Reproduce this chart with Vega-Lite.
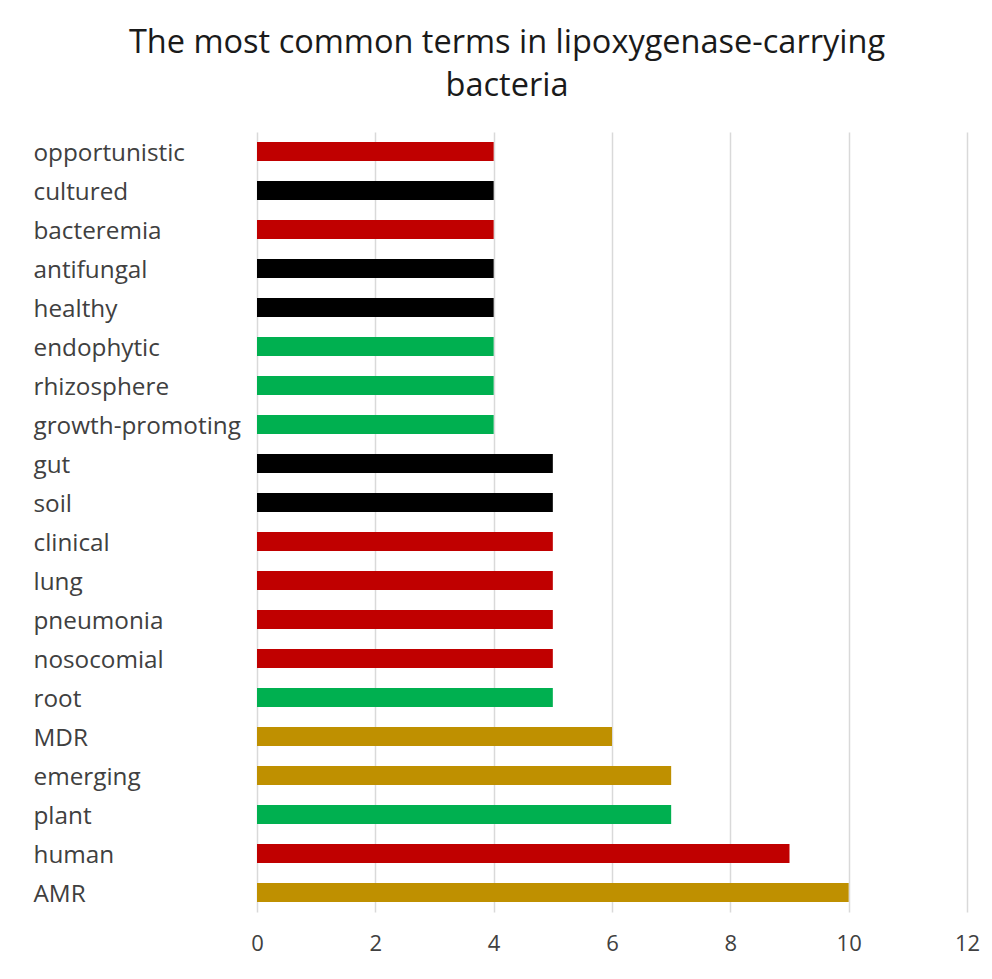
{
  "$schema": "https://vega.github.io/schema/vega-lite/v6.json",
  "width": 710,
  "height": 780,
  "autosize": {"type": "none"},
  "padding": {"left": 257, "top": 132, "right": 25, "bottom": 67},
  "background": "white",
  "title": {
    "text": ["The most common terms in lipoxygenase-carrying", "bacteria"],
    "anchor": "middle",
    "frame": "group",
    "dx": -105,
    "offset": 30,
    "font": "Open Sans",
    "fontSize": 32.5,
    "fontWeight": "normal",
    "color": "#1a1a1a",
    "lineHeight": 43
  },
  "data": {
    "values": [
      {"term": "opportunistic", "count": 4, "group": "clinical"},
      {"term": "cultured", "count": 4, "group": "other"},
      {"term": "bacteremia", "count": 4, "group": "clinical"},
      {"term": "antifungal", "count": 4, "group": "other"},
      {"term": "healthy", "count": 4, "group": "other"},
      {"term": "endophytic", "count": 4, "group": "plant"},
      {"term": "rhizosphere", "count": 4, "group": "plant"},
      {"term": "growth-promoting", "count": 4, "group": "plant"},
      {"term": "gut", "count": 5, "group": "other"},
      {"term": "soil", "count": 5, "group": "other"},
      {"term": "clinical", "count": 5, "group": "clinical"},
      {"term": "lung", "count": 5, "group": "clinical"},
      {"term": "pneumonia", "count": 5, "group": "clinical"},
      {"term": "nosocomial", "count": 5, "group": "clinical"},
      {"term": "root", "count": 5, "group": "plant"},
      {"term": "MDR", "count": 6, "group": "resistance"},
      {"term": "emerging", "count": 7, "group": "resistance"},
      {"term": "plant", "count": 7, "group": "plant"},
      {"term": "human", "count": 9, "group": "clinical"},
      {"term": "AMR", "count": 10, "group": "resistance"}
    ]
  },
  "mark": {"type": "bar"},
  "encoding": {
    "y": {
      "field": "term",
      "type": "nominal",
      "sort": null,
      "scale": {"paddingInner": 0.51, "paddingOuter": 0.255},
      "axis": {
        "title": null,
        "domain": false,
        "ticks": false,
        "tickSize": 0,
        "labelAlign": "left",
        "labelPadding": 224,
        "labelOffset": 2,
        "labelFont": "Open Sans",
        "labelFontSize": 24.3,
        "labelColor": "#404040",
        "labelLimit": 300,
        "grid": false
      }
    },
    "x": {
      "field": "count",
      "type": "quantitative",
      "scale": {"domain": [0, 12], "nice": false},
      "axis": {
        "title": null,
        "values": [0, 2, 4, 6, 8, 10, 12],
        "domain": false,
        "ticks": false,
        "tickSize": 0,
        "labelFlush": false,
        "labelPadding": 21,
        "labelFont": "Open Sans",
        "labelFontSize": 22,
        "labelColor": "#404040",
        "grid": true,
        "gridColor": "#d9d9d9",
        "gridWidth": 1.5
      }
    },
    "color": {
      "field": "group",
      "type": "nominal",
      "scale": {
        "domain": ["clinical", "other", "plant", "resistance"],
        "range": ["#C00000", "#000000", "#00B050", "#BF9000"]
      },
      "legend": null
    }
  },
  "config": {"view": {"stroke": null}}
}
